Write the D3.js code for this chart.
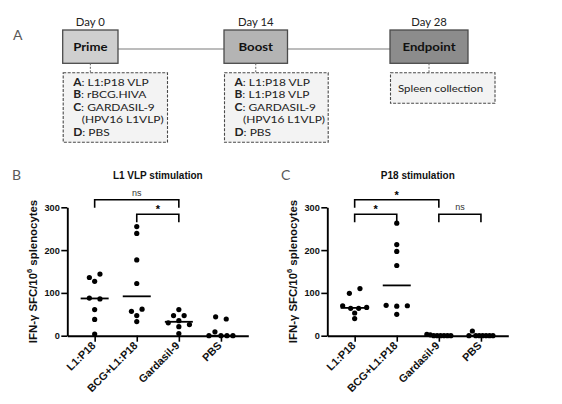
<!DOCTYPE html>
<html><head><meta charset="utf-8">
<script src="https://cdn.jsdelivr.net/npm/d3@7"></script>
<style>body{margin:0;background:#fff}svg{display:block}</style>
</head><body>
<svg id="c" width="562" height="404"></svg>
<script>
// ---------- data ----------
const groups = ["L1:P18", "BCG+L1:P18", "Gardasil-9", "PBS"];
const yTicks = [0, 100, 200, 300];

// Panel B: L1 VLP stimulation (IFN-γ SFC / 10^6 splenocytes)
const vlpL1P18    = [136, 144, 127, 88, 86, 61, 38, 4];
const vlpBCG      = [255, 239, 177, 122, 57, 62, 47, 33];
const vlpGardasil = [61, 47, 47, 30, 35, 26, 21, 5];
const vlpPBS      = [44, 39, 0, 9, 0, 0, 0];

// Panel C: P18 stimulation
const p18L1P18    = [99, 110, 70, 64, 64, 66, 53, 40];
const p18BCG      = [263, 213, 197, 164, 71, 69, 70, 50];
const p18Gardasil = [3, 2, 0, 0, 0, 0, 0, 0];
const p18PBS      = [0, 11, 0, 0, 0, 0, 0, 0];

const sigB = [
  {from: "L1:P18", to: "Gardasil-9", label: "ns", level: 1},
  {from: "BCG+L1:P18", to: "Gardasil-9", label: "*", level: 0}
];
const sigC = [
  {from: "L1:P18", to: "Gardasil-9", label: "*", level: 1},
  {from: "L1:P18", to: "BCG+L1:P18", label: "*", level: 0},
  {from: "Gardasil-9", to: "PBS", label: "ns", level: 0}
];

// Panel A: schedule (bold key, text, indented?)
const stages = ["Prime", "Boost", "Endpoint"];
const days = ["Day 0", "Day 14", "Day 28"];
const primeLines = [["A", ": L1:P18 VLP", 0], ["B", ": rBCG.HIVA", 0], ["C", ": GARDASIL-9", 0], ["", "(HPV16 L1VLP)", 1], ["D", ": PBS", 0]];
const boostLines = [["A", ": L1:P18 VLP", 0], ["B", ": L1:P18 VLP", 0], ["C", ": GARDASIL-9", 0], ["", "(HPV16 L1VLP)", 1], ["D", ": PBS", 0]];
const endLines = [["", "Spleen collection", 0]];

// ---------- drawing ----------
const svg = d3.select("#c");
const AF = "Lato, 'Open Sans', sans-serif";
const PF = "'Liberation Sans', Arial, sans-serif";

// Panel letters
[["A", 13, 40], ["B", 12, 180], ["C", 281, 180]].forEach(([t, x, y]) => {
  svg.append("text").attr("x", x).attr("y", y).text(t)
    .attr("font-family", AF).attr("font-size", 14).attr("fill", "#595959");
});

// Panel A layout
const stageBoxes = [
  {x: 62.7, w: 55.3, fill: "#cfcfcf", lines: primeLines, dw: 104.3, dh: 69.6},
  {x: 224, w: 63.5, fill: "#b4b4b4", lines: boostLines, dw: 103.7, dh: 69.6},
  {x: 390, w: 78, fill: "#8c8c8c", lines: endLines, dw: 104.5, dh: 30.6}
];
const boxTop = 30, boxH = 33.3, detTop = 72.7, lineY = 49;
for (let i = 0; i < stageBoxes.length - 1; i++) {
  svg.append("line").attr("x1", stageBoxes[i].x + stageBoxes[i].w).attr("x2", stageBoxes[i + 1].x)
    .attr("y1", lineY).attr("y2", lineY).attr("stroke", "#7a7a7a").attr("stroke-width", 1.2);
}
stageBoxes.forEach((b, i) => {
  const cx = b.x + b.w / 2;
  svg.append("text").attr("transform", `translate(${cx},26) scale(1.08,1)`).attr("text-anchor", "middle")
    .attr("font-family", AF).attr("font-size", 10.5).attr("fill", "#222").text(days[i]);
  svg.append("rect").attr("x", b.x).attr("y", boxTop).attr("width", b.w).attr("height", boxH)
    .attr("fill", b.fill).attr("stroke", "#4a4a4a").attr("stroke-width", 1.3);
  svg.append("text").attr("transform", `translate(${cx},${boxTop + boxH / 2 + 4.5}) scale(1.1,1)`).attr("text-anchor", "middle")
    .attr("font-family", AF).attr("font-weight", "bold").attr("font-size", 12).attr("fill", "#111").text(stages[i]);
  svg.append("line").attr("x1", cx).attr("x2", cx).attr("y1", boxTop + boxH).attr("y2", detTop)
    .attr("stroke", "#666").attr("stroke-width", 1).attr("stroke-dasharray", "2,1.5");
  svg.append("rect").attr("x", b.x + 0.5).attr("y", detTop).attr("width", b.dw).attr("height", b.dh)
    .attr("fill", "#f3f3f3").attr("stroke", "#4a4a4a").attr("stroke-width", 1.1).attr("stroke-dasharray", "3,1.5");
  const multi = b.lines.length > 1;
  const tx = multi ? b.x + 10.5 : b.x + 8;
  b.lines.forEach((ln, j) => {
    const ty = multi ? detTop + 12.8 + j * 12.5 : detTop + 19;
    const t = svg.append("text").attr("transform", `translate(${tx + ln[2] * 8.5},${ty}) scale(${multi ? 1.15 : 1.1},1)`)
      .attr("font-family", AF).attr("font-size", 10.4).attr("fill", "#222");
    if (ln[0]) t.append("tspan").attr("font-weight", "bold").text(ln[0]);
    t.append("tspan").text(ln[1]);
  });
});

// Dot plots
function swarm(values, y, step, maxHalf, D) {
  const idx = values.map((v, i) => i).sort((a, b) => values[b] - values[a] || a - b);
  const rows = []; let cur = null;
  idx.forEach(i => {
    const py = y(values[i]);
    if (cur && Math.abs(py - cur.y0) < D) cur.items.push(i);
    else { cur = {y0: py, items: [i]}; rows.push(cur); }
  });
  const off = new Array(values.length).fill(0);
  rows.forEach(r => {
    r.items.sort((a, b) => a - b);
    const n = r.items.length;
    const s = n > 1 ? Math.min(step, 2 * maxHalf / (n - 1)) : 0;
    r.items.forEach((i, k) => off[i] = (k - (n - 1) / 2) * s);
  });
  return off;
}

function panel(x0, title, series, sigs) {
  const x = d3.scalePoint().domain(groups).range([x0, x0 + 181]).padding(0.65);
  const y = d3.scaleLinear().domain([0, 300]).range([335.7, 207.3]);
  const g = svg.append("g");
  const axisY = y(0);

  g.append("text").attr("x", x0 + 90.5).attr("y", 179).attr("text-anchor", "middle")
    .attr("font-family", PF).attr("font-weight", "bold").attr("font-size", 10).attr("fill", "#111").text(title);

  const ya = g.append("g").attr("transform", `translate(${x0},0)`)
    .call(d3.axisLeft(y).tickValues(yTicks).tickSize(6).tickSizeOuter(0).tickPadding(1.5));
  ya.select(".domain").attr("stroke", "#000").attr("stroke-width", 1.9);
  ya.selectAll(".tick line").attr("stroke", "#000").attr("stroke-width", 1.6);
  ya.selectAll(".tick text").attr("font-family", PF).attr("font-weight", "bold").attr("font-size", 9.2).attr("fill", "#111");

  const yt = g.append("text").attr("transform", `translate(${x0 - 30.5},${(y(0) + y(300)) / 2}) rotate(-90)`)
    .attr("text-anchor", "middle").attr("font-family", PF).attr("font-weight", "bold").attr("font-size", 11.4).attr("fill", "#111");
  yt.append("tspan").text("IFN-γ SFC/10");
  yt.append("tspan").attr("font-size", 7.5).attr("dy", -4.5).text("6");
  yt.append("tspan").attr("dy", 4.5).text(" splenocytes");

  const xa = g.append("g").attr("transform", `translate(0,${axisY})`)
    .call(d3.axisBottom(x).tickSize(6).tickSizeOuter(0));
  xa.select(".domain").attr("stroke", "#000").attr("stroke-width", 1.9);
  xa.selectAll(".tick line").attr("stroke", "#000").attr("stroke-width", 1.6);
  xa.selectAll(".tick text").remove();
  groups.forEach(d => {
    g.append("text").attr("transform", `translate(${x(d) + 1.5},${axisY + 10.5}) rotate(-45)`)
      .attr("text-anchor", "end").attr("font-family", PF).attr("font-weight", "bold")
      .attr("font-size", 10.8).attr("fill", "#111").text(d);
  });

  series.forEach((vals, gi) => {
    const cx = x(groups[gi]);
    const off = swarm(vals, y, 10.6, 12, 5);
    g.selectAll(null).data(vals).enter().append("circle")
      .attr("cx", (d, i) => cx + off[i]).attr("cy", d => y(d)).attr("r", 2.6).attr("fill", "#000");
    const m = d3.median(vals);
    g.append("line").attr("x1", cx - 14).attr("x2", cx + 14).attr("y1", y(m)).attr("y2", y(m))
      .attr("stroke", "#000").attr("stroke-width", 1.8);
  });

  sigs.forEach(s => {
    const top = y(300) + 7 - s.level * 14.5;
    const xa1 = x(s.from), xa2 = x(s.to);
    g.append("path").attr("d", `M${xa1},${top + 8}V${top}H${xa2}V${top + 8}`)
      .attr("fill", "none").attr("stroke", "#000").attr("stroke-width", 1.6);
    const isStar = s.label === "*";
    g.append("text").attr("x", (xa1 + xa2) / 2).attr("y", isStar ? top - 1 : top - 4)
      .attr("text-anchor", "middle").attr("font-family", PF)
      .attr("font-weight", isStar ? "bold" : "normal").attr("font-size", isStar ? 11 : 9)
      .attr("fill", isStar ? "#000" : "#333").text(s.label);
  });
}

panel(67.3, "L1 VLP stimulation", [vlpL1P18, vlpBCG, vlpGardasil, vlpPBS], sigB);
panel(327.3, "P18 stimulation", [p18L1P18, p18BCG, p18Gardasil, p18PBS], sigC);
</script>
</body></html>
